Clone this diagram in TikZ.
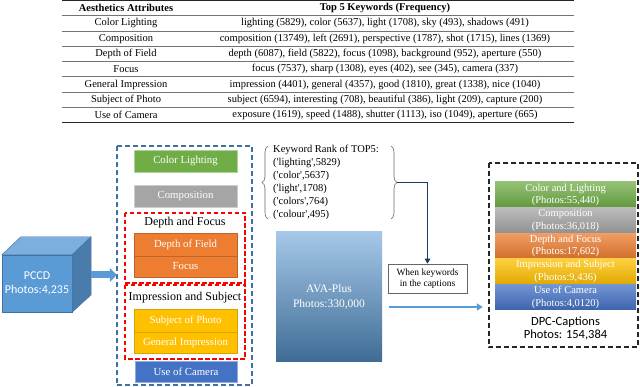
\documentclass[tikz,border=0pt]{standalone}
\usepackage{fontspec}
\setmainfont{Liberation Serif}
\newfontfamily\calib{Carlito}
\usetikzlibrary{arrows.meta,decorations.pathreplacing}
\definecolor{cgreen}{HTML}{70AD47}
\definecolor{cgray}{HTML}{A5A5A5}
\definecolor{corange}{HTML}{ED7D31}
\definecolor{cyellow}{HTML}{FFC000}
\definecolor{cblue}{HTML}{4472C4}
\definecolor{sky}{HTML}{5B9BD5}
\definecolor{steel}{HTML}{41719C}
\definecolor{navy}{HTML}{1F3864}
\begin{document}
\begin{tikzpicture}[x=1pt,y=-1pt,
  tabtxt/.style={font=\fontsize{10.5}{12}\selectfont, inner sep=0pt},
  tabrule/.style={draw=black!55, line width=0.5pt},
  tabedge/.style={draw=black!85, line width=1pt},
  lbox/.style={minimum width=103pt, minimum height=#1, inner sep=0pt, text=white,
    font=\fontsize{10.8}{13}\selectfont},
  grp/.style={font=\fontsize{12}{14}\selectfont, inner sep=0pt},
  reddash/.style={draw=red, line width=1.8pt, dash pattern=on 4.5pt off 2.5pt},
  bluedash/.style={draw=steel, line width=1.6pt, dash pattern=on 5pt off 3pt},
  blackdash/.style={draw=black!85, line width=1.6pt, dash pattern=on 5pt off 3pt},
  srow/.style={minimum width=141pt, minimum height=25.6pt, inner sep=0pt, text=white,
    font=\fontsize{10.5}{12.5}\selectfont, align=center,
    top color=#1!75!white, bottom color=#1!88!black},
  kw/.style={font=\fontsize{10.5}{13}\selectfont, inner sep=0pt, anchor=west}
]
\useasboundingbox (0,0) rectangle (640,387);

% ---------------- table ----------------
\draw[tabedge] (62,0.8) -- (574,0.8);
\foreach \y in {15.5,30.8,46.1,61.4,76.7,92,107.3} \draw[tabrule] (62,\y) -- (574,\y);
\draw[tabedge] (62,122.8) -- (574,122.8);
\node[tabtxt] (h1) at (126,8) {\bfseries Aesthetics Attributes};
\node[tabtxt] (h2) at (385,8) {\bfseries Top 5 Keywords (Frequency)};
\node[tabtxt] (r1a) at (126,23.4) {Color Lighting};
\node[tabtxt] (r1b) at (385,23.4) {lighting (5829), color (5637), light (1708), sky (493), shadows (491)};
\node[tabtxt] (r2a) at (126,38.7) {Composition};
\node[tabtxt] (r2b) at (385,38.7) {composition (13749), left (2691), perspective (1787), shot (1715), lines (1369)};
\node[tabtxt] (r3a) at (126,54) {Depth of Field};
\node[tabtxt] (r3b) at (385,54) {depth (6087), field (5822), focus (1098), background (952), aperture (550)};
\node[tabtxt] (r4a) at (126,69.3) {Focus};
\node[tabtxt] (r4b) at (385,69.3) {focus (7537), sharp (1308), eyes (402), see (345), camera (337)};
\node[tabtxt] (r5a) at (126,84.6) {General Impression};
\node[tabtxt] (r5b) at (385,84.6) {impression (4401), general (4357), good (1810), great (1338), nice (1040)};
\node[tabtxt] (r6a) at (126,99.9) {Subject of Photo};
\node[tabtxt] (r6b) at (385,99.9) {subject (6594), interesting (708), beautiful (386), light (209), capture (200)};
\node[tabtxt] (r7a) at (126,115.2) {Use of Camera};
\node[tabtxt] (r7b) at (385,115.2) {exposure (1619), speed (1488), shutter (1113), iso (1049), aperture (665)};

% ---------------- PCCD cube ----------------
\node[fill=sky, draw=steel, line width=0.4pt, minimum width=70pt, minimum height=57pt, inner sep=0pt,
      text=white, align=center, font=\calib\fontsize{12}{14}\selectfont] (pccd) at (37,283.5) {PCCD\\Photos:4,235};
\fill[sky!80!white, draw=steel, line width=0.4pt] (pccd.north west) -- ++(19,-18) -- ++(70,0) -- (pccd.north east) -- cycle;
\fill[sky!80!black, draw=steel, line width=0.4pt] (pccd.north east) -- ++(19,-18) -- ++(0,58) -- (pccd.south east) -- cycle;
\coordinate (cuberight) at (91,275);

% ---------------- left grouping ----------------
\node[draw=none, minimum width=135pt, minimum height=239pt, inner sep=0pt] (leftgrp) at (184.5,265.5) {};
\draw[bluedash] (leftgrp.north west) rectangle (leftgrp.south east);
\draw[-{Triangle[length=7pt,width=14pt]}, line width=7pt, draw=sky] (cuberight) -- (leftgrp.west |- cuberight);

\node[lbox=22pt, fill=cgreen, draw=cgreen!55!white] (colorl) at (185.5,161) {Color Lighting};
\node[lbox=22pt, fill=cgray, draw=cgray!55!white] (compo) at (185.5,196) {Composition};

\draw[reddash] (125,213) rectangle (245,283);
\node[grp] (dfgrp) at (185,223) {Depth and Focus};
\node[lbox=23pt, fill=corange, draw=corange!80!black] (dof) at (185.5,244.5) {Depth of Field};
\node[lbox=21pt, fill=corange, draw=corange!80!black] (focus) at (185.5,266.5) {Focus};

\draw[reddash] (125,285) rectangle (245,359);
\node[grp] (isgrp) at (185,298) {Impression and Subject};
\node[lbox=23pt, fill=cyellow, draw=cyellow!85!black] (subj) at (185.5,320.5) {Subject of Photo};
\node[lbox=21pt, fill=cyellow, draw=cyellow!85!black] (genimp) at (185.5,342.5) {General Impression};
\node[lbox=21pt, fill=cblue, draw=cblue!60!white, minimum width=102pt] (useofcam) at (186,371.5) {Use of Camera};

% ---------------- keyword rank ----------------
\node[kw] (k0) at (273,150) {Keyword Rank of TOP5:};
\node[kw] (k1) at (273,163) {(\textquotesingle lighting\textquotesingle,5829)};
\node[kw] (k2) at (273,176) {(\textquotesingle color\textquotesingle,5637)};
\node[kw] (k3) at (273,189) {(\textquotesingle light\textquotesingle,1708)};
\node[kw] (k4) at (273,202) {(\textquotesingle colors\textquotesingle,764)};
\node[kw] (k5) at (273,215) {(\textquotesingle colour\textquotesingle,495)};
\draw[decorate, decoration={brace, amplitude=6pt}, draw=black!60, line width=0.6pt] (268,219) -- (268,146);
\draw[decorate, decoration={brace, amplitude=6pt}, draw=black!60, line width=0.6pt] (391,146) -- (391,219);
\coordinate (bracetip) at (397,182.5);

% ---------------- when keywords ----------------
\node[draw=black!60, line width=0.6pt, fill=white, minimum width=79pt, minimum height=29pt, inner sep=0pt,
      align=center, font=\fontsize{9.5}{11}\selectfont] (when) at (427.5,278.5) {When keywords\\in the captions};
\draw[navy, line width=1.8pt, -{Triangle[length=5pt,width=5.5pt]}] (bracetip) -| (when.north);

% ---------------- AVA-Plus ----------------
\node[minimum width=106pt, minimum height=129pt, inner sep=0pt, top color=sky!55!white, bottom color=sky!70!black,
      text=white, align=center, font=\fontsize{11.5}{15}\selectfont] (ava) at (329,296.5) {AVA-Plus\\Photos:330,000};

% ---------------- DPC ----------------
\node[minimum width=149pt, minimum height=184pt, inner sep=0pt] (dpc) at (563.5,255) {};
\draw[blackdash] (dpc.north west) rectangle (dpc.south east);
\coordinate (avaout) at (389,307);
\draw[sky, line width=2.4pt, -{Triangle[length=6pt,width=7pt]}] (avaout) -- ([xshift=-6pt]dpc.west |- avaout);

\node[srow=cgreen] (s1) at (565.5,194.8) {Color and Lighting\\(Photos:55,440)};
\node[srow=cgray] (s2) at (565.5,220.4) {Composition\\(Photos:36,018)};
\node[srow=corange] (s3) at (565.5,246) {Depth and Focus\\(Photos:17,602)};
\node[srow=cyellow] (s4) at (565.5,271.6) {Impression and Subject\\(Photos:9,436)};
\node[srow=cblue] (s5) at (565.5,297.2) {Use of Camera\\(Photos:4,0120)};
\node[align=center, inner sep=0pt, font=\calib\fontsize{12.5}{13.5}\selectfont] (dpclabel) at (565.5,328.5) {DPC-Captions\\Photos: 154,384};
\end{tikzpicture}
\end{document}
